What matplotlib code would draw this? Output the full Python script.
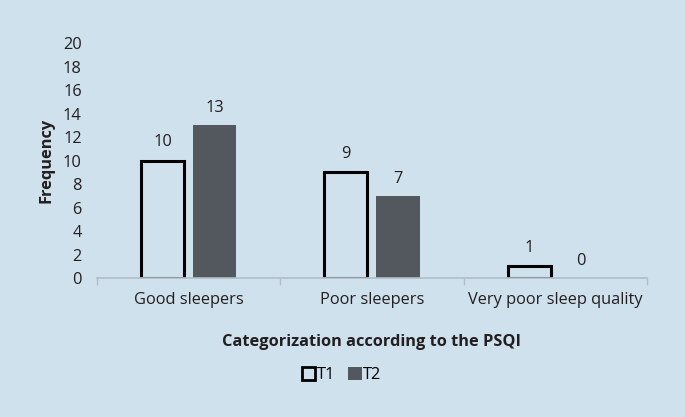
import matplotlib

matplotlib.use("Agg")
import matplotlib.pyplot as plt
import numpy as np
from matplotlib.patches import Patch

categories = ["Good sleepers", "Poor sleepers", "Very poor sleep quality"]
t1_values = [10, 9, 1]
t2_values = [13, 7, 0]
series_names = ["T1", "T2"]
yticks = list(range(0, 21, 2))

BG = "#cfe1ec"
DARK = "#53585f"
TXT = "#231f20"
AXIS = "#b3bec6"

plt.rcParams["font.family"] = ["Open Sans", "DejaVu Sans"]
FS = 11.8

fig = plt.figure(figsize=(6.85, 4.17), dpi=100, facecolor=BG)
ax = fig.add_axes([0.1416, 0.3333, 0.8029, 0.5635])
ax.set_facecolor(BG)

x = np.arange(len(categories))
width = 0.235
offset = 0.142
b1 = ax.bar(x - offset, t1_values, width, facecolor=BG, edgecolor="black", linewidth=2.2)
b2 = ax.bar(x + offset, t2_values, width, facecolor=DARK, edgecolor="none")
ax.bar_label(b1, padding=7.5, fontsize=FS, color=TXT)
ax.bar_label(b2, padding=6.5, fontsize=FS, color=TXT)

ax.set_xlim(-0.5, len(categories) - 0.5)
ax.set_ylim(0, 20)
ax.set_yticks(yticks)
ax.tick_params(axis="y", length=0, labelsize=FS, colors=TXT, pad=11)

ax.set_xticks(x)
ax.set_xticklabels(categories)
ax.set_xticks(np.arange(-0.5, len(categories)), minor=True)
ax.tick_params(axis="x", which="major", length=0, labelsize=FS, colors=TXT, pad=10)
ax.tick_params(axis="x", which="minor", length=5, color=AXIS, width=1)

for side in ("top", "right", "left"):
    ax.spines[side].set_visible(False)
ax.spines["bottom"].set_color(AXIS)
ax.spines["bottom"].set_linewidth(1.2)

ax.set_ylabel("Frequency", fontsize=FS, fontweight="bold", color=TXT, labelpad=6)
ax.set_xlabel("Categorization according to the PSQI", fontsize=FS,
              fontweight="bold", color=TXT, labelpad=19)

handles = [
    Patch(facecolor=BG, edgecolor="black", linewidth=2.0, label=series_names[0]),
    Patch(facecolor=DARK, edgecolor="none", label=series_names[1]),
]
fig.legend(handles=handles, loc="center", bbox_to_anchor=(0.499, 0.1), ncol=2,
           frameon=False, fontsize=FS, handlelength=0.8, handleheight=0.8,
           handletextpad=0.1, columnspacing=0.8, borderpad=0)

fig.savefig("out.png", dpi=100, facecolor=BG)
